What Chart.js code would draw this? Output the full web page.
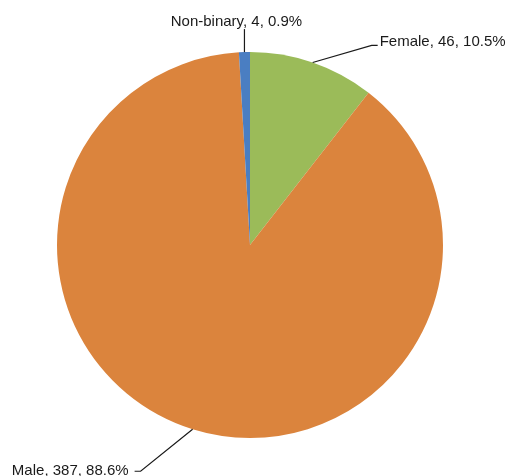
<!DOCTYPE html>
<html lang="en">
<head>
    <meta charset="UTF-8">
    <title>Gender</title>
    <script src="https://cdn.jsdelivr.net/npm/chart.js"></script>
    <style>
        html, body { margin: 0; padding: 0; background: #fff; }
        #wrap { width: 506px; height: 476px; }
    </style>
</head>
<body>
    <div id="wrap">
        <canvas id="genderChart" width="506" height="476"></canvas>
    </div>

    <script>
        const categories = ['Female', 'Male', 'Non-binary'];
        const counts = [46, 387, 4];
        const colors = ['#9bbb59', '#db843d', '#4a7ec2'];

        // leader line elbow / end, relative to the slice's outer midpoint
        const leaders = [
            { elbow: [59, -17], end: [65, -17], align: 'left', dx: 2, dy: 1 },
            { elbow: [-52, 42], end: [-58, 42], align: 'right', dx: -6, dy: 4 },
            { elbow: [0, -23], end: [0, -23], align: 'center', dx: -8, dy: -3 }
        ];

        const total = counts.reduce((a, b) => a + b, 0);

        const labelPlugin = {
            id: 'leaderLabels',
            afterDatasetsDraw(chart) {
                const ctx = chart.ctx;
                const meta = chart.getDatasetMeta(0);
                ctx.save();
                ctx.font = '15px "Liberation Sans", Arial, sans-serif';
                ctx.fillStyle = '#1a1a1a';
                ctx.strokeStyle = '#1a1a1a';
                ctx.lineWidth = 1.2;
                meta.data.forEach((arc, i) => {
                    const p = arc.getProps(['x', 'y', 'startAngle', 'endAngle', 'outerRadius'], true);
                    const mid = (p.startAngle + p.endAngle) / 2;
                    const ax = p.x + Math.cos(mid) * p.outerRadius;
                    const ay = p.y + Math.sin(mid) * p.outerRadius;
                    const l = leaders[i];
                    const ex = ax + l.elbow[0], ey = ay + l.elbow[1];
                    const tx = ax + l.end[0], ty = ay + l.end[1];
                    ctx.beginPath();
                    ctx.moveTo(ax, ay);
                    ctx.lineTo(ex, ey);
                    ctx.lineTo(tx, ty);
                    ctx.stroke();
                    const pct = (counts[i] / total * 100).toFixed(1);
                    const text = categories[i] + ', ' + counts[i] + ', ' + pct + '%';
                    ctx.textAlign = l.align;
                    ctx.textBaseline = 'alphabetic';
                    ctx.fillText(text, tx + l.dx, ty + l.dy);
                });
                ctx.restore();
            }
        };

        const ctx = document.getElementById('genderChart').getContext('2d');
        new Chart(ctx, {
            type: 'pie',
            data: {
                labels: categories,
                datasets: [{
                    data: counts,
                    backgroundColor: colors,
                    borderWidth: 0
                }]
            },
            options: {
                responsive: false,
                animation: false,
                layout: {
                    padding: { left: 57, right: 63, top: 52, bottom: 38 }
                },
                plugins: {
                    legend: { display: false },
                    tooltip: { enabled: false }
                }
            },
            plugins: [labelPlugin]
        });
    </script>
</body>
</html>
